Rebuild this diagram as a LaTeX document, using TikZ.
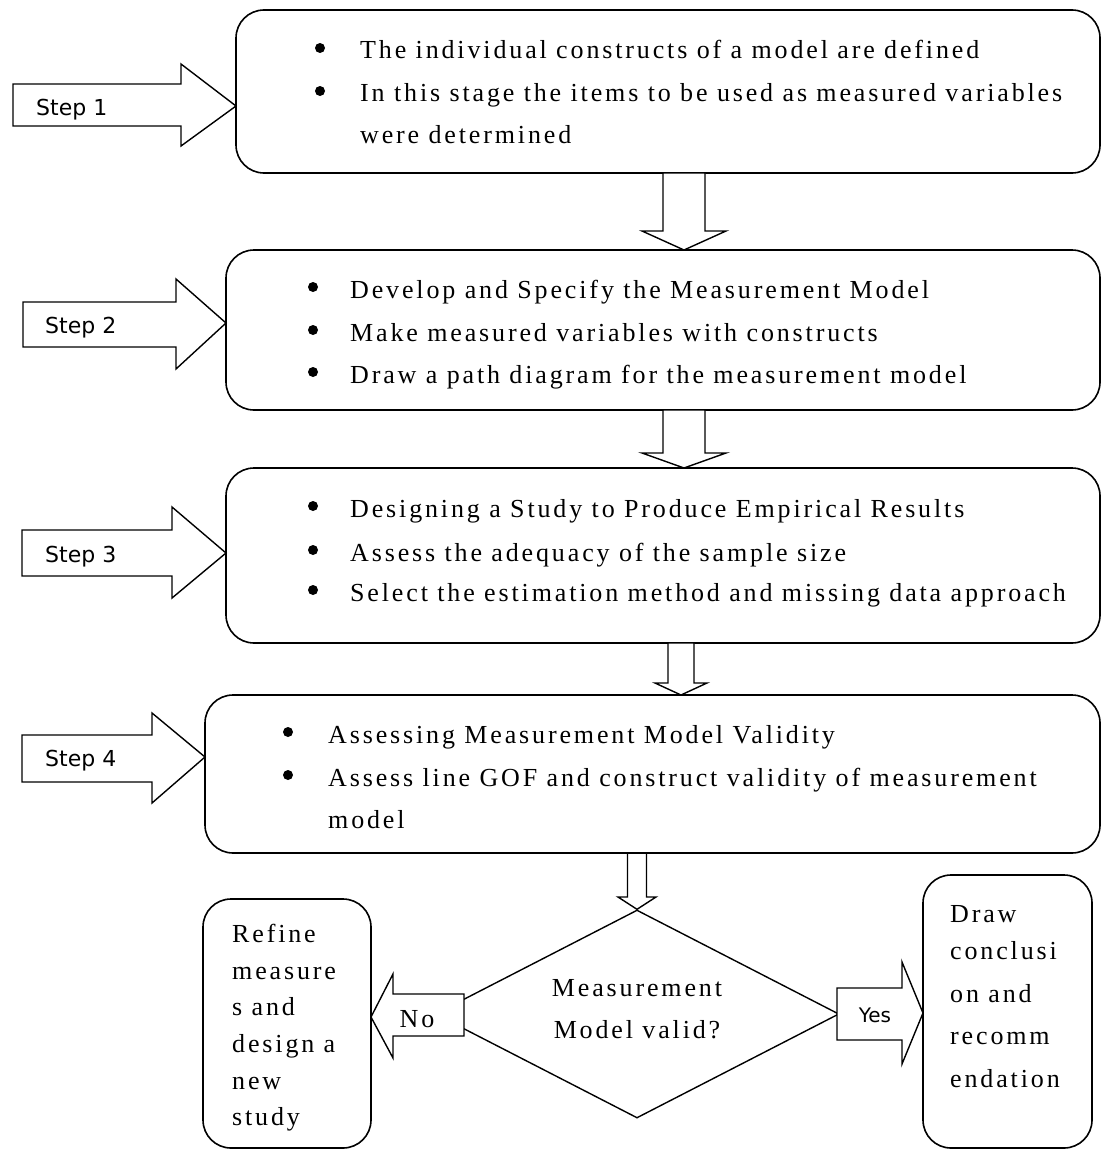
\documentclass[tikz,border=0pt]{standalone}
\usepackage{fontspec}
\setmainfont{Liberation Serif}[LetterSpace=11]
\newfontfamily\stepfont{DejaVu Sans}
\usetikzlibrary{shapes.geometric}
\tikzset{
  box/.style={draw, rounded corners=28pt, line width=1.6pt, inner sep=0pt, outer sep=0pt, anchor=north west},
  blk/.style={draw, fill=white, line width=1.4pt, line join=miter},
  txt/.style={inner sep=0pt, anchor=base west, font=\fontsize{26}{30}\selectfont},
  ctxt/.style={inner sep=0pt, anchor=base, font=\fontsize{26}{30}\selectfont},
  lbl/.style={inner sep=0pt, anchor=base west, font=\stepfont\fontsize{22}{26}\selectfont},
  dot/.style={circle, fill, inner sep=0pt, minimum size=10pt},
  decision/.style={diamond, draw, line width=1.4pt, inner sep=0pt, minimum width=404pt, minimum height=208pt}
}
\begin{document}
\begin{tikzpicture}[x=1pt,y=-1pt]
\useasboundingbox (0,0) rectangle (1102,1151);

% boxes
\node[box, minimum width=864pt, minimum height=163pt] (b1) at (236,10) {};
\node[box, minimum width=874pt, minimum height=160pt] (b2) at (226,250) {};
\node[box, minimum width=874pt, minimum height=175pt] (b3) at (226,468) {};
\node[box, minimum width=895pt, minimum height=158pt] (b4) at (205,695) {};
\node[box, minimum width=168pt, minimum height=249pt] (lb) at (203,899) {};
\node[box, minimum width=169pt, minimum height=273pt] (rb) at (923,875) {};
\node[decision] (d) at (637,1014) {};

% box 1 text
\node[dot] (b1d1) at (320,48) {};
\node[dot] (b1d2) at (320,91) {};
\node[txt] (b1t1) at (360,58) {The individual constructs of a model are defined};
\node[txt] (b1t2) at (360,101) {In this stage the items to be used as measured variables};
\node[txt] (b1t3) at (360,143) {were determined};

% box 2 text
\node[dot] (b2d1) at (313,287) {};
\node[dot] (b2d2) at (313,330) {};
\node[dot] (b2d3) at (313,372) {};
\node[txt] (b2t1) at (350,298) {Develop and Specify the Measurement Model};
\node[txt] (b2t2) at (350,341) {Make measured variables with constructs};
\node[txt] (b2t3) at (350,383) {Draw a path diagram for the measurement model};

% box 3 text
\node[dot] (b3d1) at (313,506) {};
\node[dot] (b3d2) at (313,550) {};
\node[dot] (b3d3) at (313,590) {};
\node[txt] (b3t1) at (350,517) {Designing a Study to Produce Empirical Results};
\node[txt] (b3t2) at (350,561) {Assess the adequacy of the sample size};
\node[txt] (b3t3) at (350,601) {Select the estimation method and missing data approach};

% box 4 text
\node[dot] (b4d1) at (288,732) {};
\node[dot] (b4d2) at (288,775) {};
\node[txt] (b4t1) at (328,743) {Assessing Measurement Model Validity};
\node[txt] (b4t2) at (328,786) {Assess line GOF and construct validity of measurement};
\node[txt] (b4t3) at (328,828) {model};

% decision text
\node[ctxt] (dt1) at (637,996) {Measurement};
\node[ctxt] (dt2) at (637,1038) {Model valid?};

% left box text
\node[txt] (lt1) at (232,942) {Refine};
\node[txt] (lt2) at (232,979) {measure};
\node[txt] (lt3) at (232,1015) {s and};
\node[txt] (lt4) at (232,1052) {design a};
\node[txt] (lt5) at (232,1089) {new};
\node[txt] (lt6) at (232,1125) {study};

% right box text
\node[txt] (rt1) at (950,922) {Draw};
\node[txt] (rt2) at (950,959) {conclusi};
\node[txt] (rt3) at (950,1002) {on and};
\node[txt] (rt4) at (950,1044) {recomm};
\node[txt] (rt5) at (950,1087) {endation};

% step arrows
\draw[blk] (b1.west |- 0,106) -- (181,64) -- (181,84) -- (13,84) -- (13,126) -- (181,126) -- (181,146) -- cycle;
\draw[blk] (b2.west |- 0,323) -- (176,279) -- (176,302) -- (23,302) -- (23,347) -- (176,347) -- (176,369) -- cycle;
\draw[blk] (b3.west |- 0,553) -- (172,507) -- (172,530) -- (22,530) -- (22,576) -- (172,576) -- (172,598) -- cycle;
\draw[blk] (b4.west |- 0,757) -- (152,713) -- (152,735) -- (22,735) -- (22,782) -- (152,782) -- (152,803) -- cycle;
\node[lbl] (st1) at (36,115) {Step 1};
\node[lbl] (st2) at (45,333) {Step 2};
\node[lbl] (st3) at (45,562) {Step 3};
\node[lbl] (st4) at (45,766) {Step 4};

% down arrows
\draw[blk] (684,0 |- b2.north) -- (642,231) -- (663,231) -- (663,0 |- b1.south) -- (705,0 |- b1.south) -- (705,231) -- (726,231) -- cycle;
\draw[blk] (684,0 |- b3.north) -- (642,453) -- (663,453) -- (663,0 |- b2.south) -- (705,0 |- b2.south) -- (705,453) -- (726,453) -- cycle;
\draw[blk] (681,0 |- b4.north) -- (655,683) -- (668,683) -- (668,0 |- b3.south) -- (694,0 |- b3.south) -- (694,683) -- (707,683) -- cycle;
\draw[line width=1.4pt, line join=miter] (d.north) -- (618,897) -- (627.5,897) -- (627.5,0 |- b4.south) -- (646.5,0 |- b4.south) -- (646.5,897) -- (656,897) -- cycle;

% no / yes arrows
\draw[blk] (lb.east |- 0,1017) -- (393,974) -- (393,994) -- (464,994) -- (464,1036) -- (393,1036) -- (393,1058) -- cycle;
\node[ctxt] (no) at (417,1027) {No};
\draw[blk] (rb.west |- 0,1013) -- (902,962) -- (902,988) -- (837,988) -- (837,1040) -- (902,1040) -- (902,1064) -- cycle;
\node[inner sep=0pt, anchor=base, font=\stepfont\fontsize{20}{24}\selectfont] (yes) at (875,1022) {Yes};
\end{tikzpicture}
\end{document}
